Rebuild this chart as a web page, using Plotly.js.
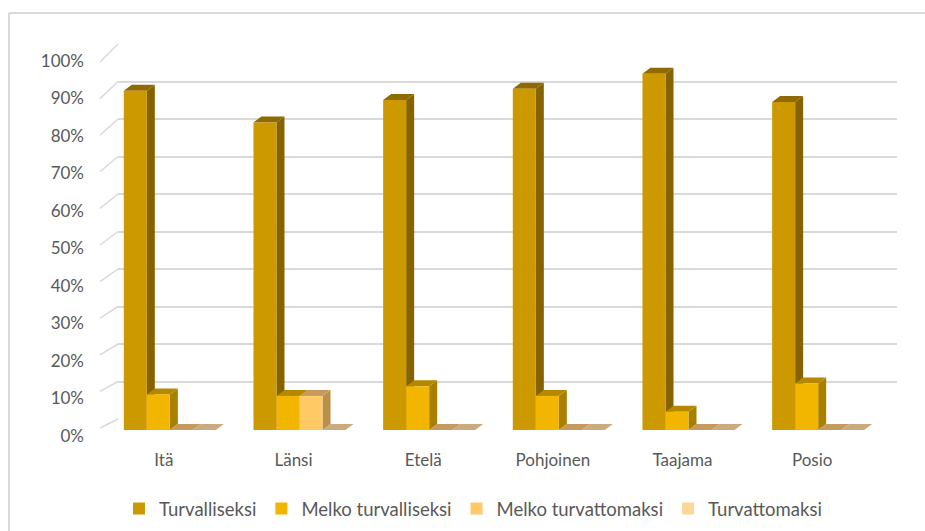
<!DOCTYPE html>
<html>
<head>
<meta charset="utf-8">
<script src="https://cdn.plot.ly/plotly-3.0.1.min.js"></script>
<style>html,body{margin:0;padding:0;background:#fff;}#chart{width:925px;height:531px;}</style>
</head>
<body>
<div id="chart"></div>
<script>
// ---- data ----
const categories = ['Itä', 'Länsi', 'Etelä', 'Pohjoinen', 'Taajama', 'Posio'];
const seriesNames = ['Turvalliseksi', 'Melko turvalliseksi', 'Melko turvattomaksi', 'Turvattomaksi'];
const turvalliseksi      = [0.905, 0.82, 0.88, 0.91, 0.95, 0.875];
const melkoTurvalliseksi = [0.095, 0.091, 0.117, 0.091, 0.049, 0.124];
const melkoTurvattomaksi = [0.00, 0.091, 0.00, 0.00, 0.00, 0.00];
const turvattomaksi      = [0.00, 0.00, 0.00, 0.00, 0.00, 0.00];
const yTickValues = [0, 0.1, 0.2, 0.3, 0.4, 0.5, 0.6, 0.7, 0.8, 0.9, 1.0];

// ---- styling ----
const W = 925, H = 531;
const frontColors = ['#CC9900', '#F2B600', '#FFC966', '#FFD699'];
const sideColors  = ['#856300', '#A97F00', '#B8904A', '#C4A47A'];
const topColors   = ['#8E6A00', '#B58800', '#C49A5E', '#CBAA80'];
const textColor = '#595959';
const font = 'Lato, "Open Sans", sans-serif';

// pixel geometry
const front = {x0: 105, x1: 883, yBase: 430, yTop: 55};
const back  = {x0: 118, x1: 897, yBase: 419, yTop: 44};
const depthPx = {dx: 8, dy: 6};
const bargap = 0.29;

const allSeries = [turvalliseksi, melkoTurvalliseksi, melkoTurvattomaksi, turvattomaksi];
const nCat = categories.length, nSer = allSeries.length;
const xRange = [-0.5, nCat - 0.5];
const pxPerX = (front.x1 - front.x0) / (xRange[1] - xRange[0]);
const pxPerY = (front.yBase - front.yTop) / 1.0;
const ddx = depthPx.dx / pxPerX, ddy = depthPx.dy / pxPerY;
const bw = (1 - bargap) / nSer;

const traces = [];
// invisible trace for back wall subplot
traces.push({x: [0], y: [0], xaxis: 'x', yaxis: 'y', mode: 'markers', marker: {opacity: 0}, showlegend: false, hoverinfo: 'skip'});

// side & top faces (polygons derived from values)
for (let j = 0; j < nSer; j++) {
  const sx = [], sy = [], tx = [], ty = [];
  const vals = allSeries[j];
  for (let i = 0; i < nCat; i++) {
    const v = vals[i];
    const cx = i + (j - (nSer - 1) / 2) * bw;
    const x0 = cx - bw / 2, x1 = cx + bw / 2;
    if (v > 0) {
      sx.push(x1, x1 + ddx, x1 + ddx, x1, x1, null);
      sy.push(0, ddy, v + ddy, v, 0, null);
    }
    tx.push(x0, x1, x1 + ddx, x0 + ddx, x0, null);
    ty.push(v, v, v + ddy, v + ddy, v, null);
  }
  if (sx.length) traces.push({x: sx, y: sy, xaxis: 'x2', yaxis: 'y2', mode: 'lines', fill: 'toself', fillcolor: sideColors[j], line: {width: 0}, showlegend: false, hoverinfo: 'skip'});
  traces.push({x: tx, y: ty, xaxis: 'x2', yaxis: 'y2', mode: 'lines', fill: 'toself', fillcolor: topColors[j], line: {width: 0}, showlegend: false, hoverinfo: 'skip'});
}
// front faces: bars
for (let j = 0; j < nSer; j++) {
  traces.push({
    type: 'bar', name: seriesNames[j], x: categories.map((c, i) => i), y: allSeries[j],
    xaxis: 'x3', yaxis: 'y3', marker: {color: frontColors[j], line: {width: 0}},
    hovertemplate: '%{y:.0%}<extra>' + seriesNames[j] + '</extra>'
  });
}

const fx = p => p / W, fy = p => (H - p) / H;

const shapes = [];
// side-wall diagonal gridlines
yTickValues.forEach(v => {
  const yF = 428 - v * 366;
  const yB = back.yBase - v * (back.yBase - back.yTop);
  shapes.push({type: 'line', xref: 'paper', yref: 'paper', x0: fx(100), x1: fx(back.x0), y0: fy(yF), y1: fy(yB), line: {color: '#D9D9D9', width: 1.5}, layer: 'below'});
});
// chart border
shapes.push({type: 'line', xref: 'paper', yref: 'paper', x0: fx(9), x1: 1, y0: fy(13), y1: fy(13), line: {color: '#D9D9D9', width: 2}});
shapes.push({type: 'line', xref: 'paper', yref: 'paper', x0: fx(9), x1: fx(9), y0: fy(13), y1: 0, line: {color: '#D9D9D9', width: 2}});

const layout = {
  width: W, height: H,
  margin: {l: 0, r: 0, t: 0, b: 0},
  paper_bgcolor: '#FFFFFF', plot_bgcolor: 'rgba(0,0,0,0)',
  font: {family: font, size: 17, color: textColor},
  barmode: 'group', bargap: bargap, bargroupgap: 0,
  showlegend: true,
  legend: {orientation: 'h', x: fx(119), xanchor: 'left', y: fy(509), yanchor: 'middle',
           font: {family: font, size: 18.5, color: textColor}, itemclick: false, itemdoubleclick: false},
  // back wall
  xaxis: {domain: [fx(back.x0), fx(back.x1)], range: [0, 1], visible: false, fixedrange: true},
  yaxis: {domain: [fy(back.yBase), fy(back.yTop)], range: [0, 1], tickvals: yTickValues, showgrid: true,
          gridcolor: '#D9D9D9', gridwidth: 1.5, showticklabels: false, zeroline: false, showline: false, ticks: '', fixedrange: true},
  // front plane (labels + side/top faces)
  xaxis2: {domain: [fx(front.x0), fx(front.x1)], range: xRange, anchor: 'y2', tickvals: categories.map((c, i) => i), ticktext: categories,
           showgrid: false, zeroline: false, showline: false, ticks: '', ticklabelstandoff: 18, ticklabelshift: -6,
           tickfont: {family: font, size: 17, color: textColor}, fixedrange: true},
  yaxis2: {domain: [fy(front.yBase), fy(front.yTop)], range: [0, 1], anchor: 'x2', tickvals: yTickValues, tickformat: '.0%',
           showgrid: false, zeroline: false, showline: false, ticks: '', ticklabelstandoff: 20, ticklabelshift: 6,
           tickfont: {family: font, size: 17, color: textColor}, fixedrange: true},
  // bars
  xaxis3: {domain: [fx(front.x0), fx(front.x1)], range: xRange, anchor: 'y3', visible: false, fixedrange: true},
  yaxis3: {domain: [fy(front.yBase), fy(front.yTop)], range: [0, 1], anchor: 'x3', visible: false, fixedrange: true},
  shapes: shapes
};

Plotly.newPlot('chart', traces, layout, {displayModeBar: false});
</script>
</body>
</html>
